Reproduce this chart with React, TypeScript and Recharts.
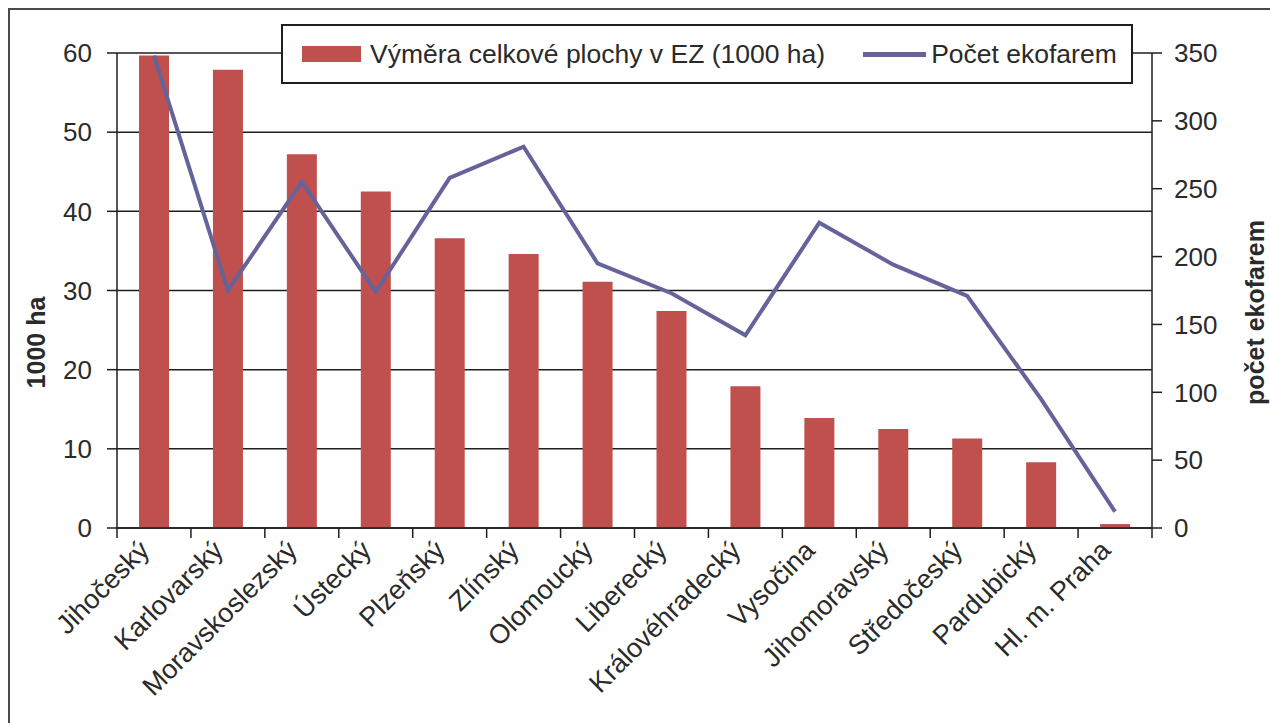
import React from "react";
import { ComposedChart, Bar, Line, XAxis, YAxis, CartesianGrid, Legend } from "recharts";

const regions = [
  "Jihočeský",
  "Karlovarský",
  "Moravskoslezský",
  "Ústecký",
  "Plzeňský",
  "Zlínský",
  "Olomoucký",
  "Liberecký",
  "Královéhradecký",
  "Vysočina",
  "Jihomoravský",
  "Středočeský",
  "Pardubický",
  "Hl. m. Praha",
];

// výměra celkové plochy v EZ, tis. ha
const areaThousandHa = [59.7, 57.9, 47.2, 42.5, 36.6, 34.6, 31.1, 27.4, 17.9, 13.9, 12.5, 11.3, 8.3, 0.5];

// počet ekofarem
const farmCount = [348, 175, 255, 174, 258, 281, 195, 173, 142, 225, 194, 171, 95, 12];

const leftTicks = [0, 10, 20, 30, 40, 50, 60];
const rightTicks = [0, 50, 100, 150, 200, 250, 300, 350];

const data = regions.map((region, i) => ({
  region,
  area: areaThousandHa[i],
  farms: farmCount[i],
}));

const FONT = '"Liberation Sans", Arial, sans-serif';
const TEXT = "#2a2a2a";
const AXIS = "#1e1e1e";
const BAR = "#C0504D";
const LINE = "#66629A";
const PLOT_W = 1035;

function RegionTick(props: any) {
  const { x, y, payload, index, visibleTicksCount } = props;
  const count = visibleTicksCount ?? regions.length;
  const step = PLOT_W / count;
  const left = x - step / 2;
  const tx = x - 3;
  const ty = y + 14;
  return (
    <g>
      <line x1={left} x2={left} y1={y - 10} y2={y} stroke={AXIS} strokeWidth={1.5} />
      {index === count - 1 && (
        <line x1={left + step} x2={left + step} y1={y - 10} y2={y} stroke={AXIS} strokeWidth={1.5} />
      )}
      <text
        x={tx}
        y={ty}
        transform={`rotate(-45 ${tx} ${ty})`}
        textAnchor="end"
        fontSize={27}
        fontFamily={FONT}
        fill={TEXT}
      >
        {payload.value}
      </text>
    </g>
  );
}

function AxisTitle(props: any) {
  const { viewBox, value, dx, dy } = props;
  const cx = viewBox.x + dx;
  const cy = viewBox.y + viewBox.height / 2 + dy;
  return (
    <text
      x={cx}
      y={cy}
      transform={`rotate(-90 ${cx} ${cy})`}
      textAnchor="middle"
      dominantBaseline="central"
      fontSize={25}
      fontWeight="bold"
      fontFamily={FONT}
      fill={TEXT}
    >
      {value}
    </text>
  );
}

function LegendBox() {
  return (
    <div
      style={{
        boxSizing: "border-box",
        width: 852,
        height: 60,
        border: `2px solid ${AXIS}`,
        background: "#fff",
        display: "flex",
        alignItems: "center",
        paddingLeft: 19,
        fontFamily: FONT,
        fontSize: 26.5,
        color: TEXT,
        whiteSpace: "nowrap",
      }}
    >
      <span style={{ width: 59, height: 16, background: BAR, marginRight: 9, display: "inline-block" }} />
      <span>Výměra celkové plochy v EZ (1000 ha)</span>
      <span style={{ width: 63, height: 5, background: LINE, marginLeft: 38, marginRight: 5, display: "inline-block" }} />
      <span>Počet ekofarem</span>
    </div>
  );
}

export default function App() {
  return (
    <div style={{ position: "relative", width: 1270, height: 723, overflow: "hidden", background: "#fff" }}>
      <style>{"body{margin:0}"}</style>
      <div
        style={{
          position: "absolute",
          left: 8,
          top: 8,
          width: 1400,
          height: 900,
          border: "2px solid #4a4a4a",
        }}
      />
      <div style={{ position: "absolute", left: 0, top: 0 }}>
        <ComposedChart
          width={1270}
          height={723}
          data={data}
          margin={{ top: 53, right: 0, bottom: 0, left: 0 }}
        >
          <CartesianGrid yAxisId="left" vertical={false} stroke={AXIS} strokeWidth={1.5} />
          <XAxis
            dataKey="region"
            height={195}
            interval={0}
            tickLine={false}
            tickSize={10}
            tickMargin={0}
            axisLine={{ stroke: AXIS, strokeWidth: 1.5 }}
            tick={<RegionTick />}
          />
          <YAxis
            yAxisId="left"
            width={117}
            domain={[0, 60]}
            ticks={leftTicks}
            interval={0}
            tickSize={10}
            tickMargin={15}
            axisLine={{ stroke: AXIS, strokeWidth: 1.5 }}
            tickLine={{ stroke: AXIS, strokeWidth: 1.5 }}
            tick={{ fill: TEXT, fontSize: 26, fontFamily: FONT }}
            label={<AxisTitle value="1000 ha" dx={36} dy={52} />}
          />
          <YAxis
            yAxisId="right"
            orientation="right"
            width={118}
            domain={[0, 350]}
            ticks={rightTicks}
            interval={0}
            tickSize={10}
            tickMargin={12}
            axisLine={{ stroke: AXIS, strokeWidth: 1.5 }}
            tickLine={{ stroke: AXIS, strokeWidth: 1.5 }}
            tick={{ fill: TEXT, fontSize: 26, fontFamily: FONT }}
            label={<AxisTitle value="počet ekofarem" dx={103} dy={22} />}
          />
          <Legend
            layout="vertical"
            align="center"
            verticalAlign="middle"
            wrapperStyle={{ top: 24, left: 281, width: 852 }}
            content={() => <LegendBox />}
          />
          <Bar yAxisId="left" dataKey="area" fill={BAR} barSize={30} isAnimationActive={false} />
          <Line
            yAxisId="right"
            type="linear"
            dataKey="farms"
            stroke={LINE}
            strokeWidth={4}
            dot={false}
            activeDot={false}
            isAnimationActive={false}
          />
        </ComposedChart>
      </div>
    </div>
  );
}
